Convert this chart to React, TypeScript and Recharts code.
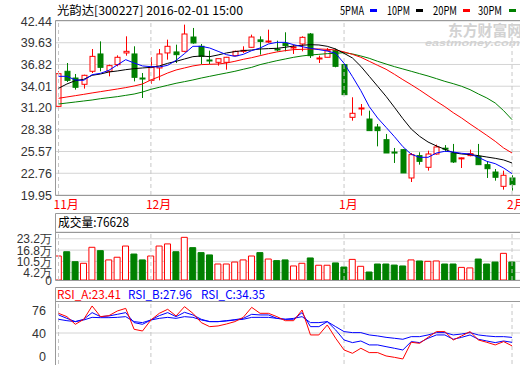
import { ComposedChart, Bar, Line, XAxis, YAxis, CartesianGrid, ReferenceLine, Cell } from 'recharts';

// 光韵达[300227] 日K 2015-11 ~ 2016-02-01
const monthIdx = [0, 11, 34, 54];
const monthLabels = ['11月', '12月', '1月', '2月'];
const priceTicks = [19.95, 22.76, 25.57, 28.38, 31.2, 34.01, 36.82, 39.63, 42.44];
const volTicks = [0, 4.2, 10.5, 16.8, 23.2];
const rsiTicks = [0, 40, 76];

const open = [31.41, 35.94, 35.07, 34.26, 35.94, 38.18, 35.94, 36.8, 38.31, 38.18, 35.07, 34.77, 36.37, 38.31, 38.44, 38.52, 40.37, 39.17, 37.4, 37.1, 37.1, 37.96, 38.6, 39.04, 40.0, 39.8, 38.82, 39.56, 39.0, 39.47, 40.76, 37.6, 37.75, 38.61, 36.8, 29.99, 31.1, 29.77, 28.74, 27.1, 25.5, 25.81, 22.15, 25.04, 23.53, 25.25, 26.0, 25.38, 24.7, 25.04, 24.95, 23.87, 22.92, 21.07, 22.15];
const close = [35.63, 34.77, 33.87, 35.42, 37.87, 36.45, 36.67, 37.75, 38.52, 35.16, 34.98, 36.45, 38.18, 39.17, 38.09, 40.76, 39.6, 37.87, 37.3, 37.57, 37.75, 38.52, 38.65, 40.37, 39.8, 39.85, 38.74, 39.25, 39.08, 40.33, 37.96, 37.66, 38.61, 36.58, 32.92, 30.51, 31.2, 28.27, 28.27, 25.38, 25.4, 22.8, 25.17, 24.3, 25.25, 26.16, 25.95, 24.22, 24.75, 25.3, 23.87, 23.35, 22.24, 22.5, 21.29];
const high = [35.94, 37.01, 35.59, 35.5, 38.82, 39.81, 36.8, 38.0, 40.46, 39.17, 35.72, 37.75, 38.82, 40.03, 39.38, 41.97, 41.54, 39.47, 38.61, 37.57, 37.8, 38.61, 39.17, 40.68, 40.46, 41.32, 39.9, 40.98, 39.38, 40.46, 40.89, 37.96, 38.95, 38.87, 36.9, 32.58, 31.71, 30.85, 29.13, 27.84, 26.03, 25.9, 25.38, 25.47, 25.68, 26.46, 26.4, 26.55, 24.8, 25.81, 26.55, 24.3, 23.31, 23.1, 22.5];
const low = [31.41, 34.56, 33.57, 33.7, 35.72, 35.94, 35.29, 36.58, 37.96, 34.64, 32.49, 34.34, 34.77, 37.44, 37.01, 38.4, 39.5, 36.88, 36.88, 36.67, 36.15, 37.96, 38.31, 39.0, 38.09, 39.6, 38.52, 38.52, 38.18, 38.52, 37.66, 37.01, 37.75, 36.45, 32.92, 29.56, 30.21, 28.27, 26.24, 25.38, 24.09, 22.8, 21.63, 23.87, 23.1, 25.17, 25.55, 24.09, 23.44, 24.95, 23.87, 22.15, 21.8, 20.64, 20.52];

const ma5 = [35.29, 35.29, 34.82, 34.77, 35.5, 35.68, 36.07, 36.76, 37.44, 37.01, 36.63, 36.54, 36.5, 36.71, 37.36, 38.22, 39.17, 39.17, 38.95, 38.52, 38.09, 37.87, 38.13, 38.61, 38.95, 39.47, 39.68, 39.68, 39.38, 39.12, 38.91, 38.74, 38.56, 38.26, 36.97, 35.25, 33.44, 31.37, 29.9, 28.7, 27.49, 26.2, 25.21, 24.82, 24.82, 25.38, 25.6, 25.51, 25.34, 25.25, 24.82, 24.3, 24.0, 23.44, 22.71];
const ma10 = [33.74, 34.3, 34.73, 34.9, 35.42, 35.59, 35.85, 35.98, 36.15, 36.28, 36.37, 36.45, 36.63, 36.97, 37.23, 37.53, 37.83, 37.92, 37.83, 38.05, 38.31, 38.48, 38.61, 38.69, 38.82, 38.87, 38.91, 39.04, 39.21, 39.3, 39.38, 39.34, 39.17, 38.82, 38.26, 37.66, 36.58, 35.29, 34.0, 32.7, 31.28, 29.82, 28.48, 27.53, 26.8, 26.29, 25.86, 25.42, 25.25, 25.17, 25.04, 24.86, 24.69, 24.48, 24.09];
const ma20 = [32.45, 32.62, 32.79, 32.96, 33.14, 33.31, 33.48, 33.65, 33.83, 34.04, 34.3, 34.82, 35.25, 35.72, 36.11, 36.37, 36.63, 36.8, 36.84, 36.88, 37.01, 37.23, 37.49, 37.7, 37.96, 38.22, 38.44, 38.61, 38.74, 38.78, 38.82, 38.82, 38.78, 38.69, 38.44, 38.13, 37.75, 37.23, 36.71, 36.2, 35.55, 34.86, 34.21, 33.52, 32.79, 32.06, 31.37, 30.59, 29.9, 29.13, 28.4, 27.66, 26.89, 26.03, 25.38];
const ma30 = [31.71, 31.84, 31.97, 32.1, 32.23, 32.4, 32.53, 32.66, 32.83, 33.0, 33.26, 33.61, 33.87, 34.13, 34.39, 34.6, 34.82, 35.07, 35.29, 35.51, 35.72, 35.94, 36.2, 36.45, 36.8, 37.06, 37.31, 37.53, 37.75, 37.92, 38.05, 38.13, 38.22, 38.26, 38.35, 38.18, 37.92, 37.62, 37.23, 36.88, 36.54, 36.24, 35.94, 35.63, 35.33, 34.99, 34.64, 34.34, 34.0, 33.57, 33.01, 32.49, 31.84, 30.85, 29.69];

// 成交量 (万)
const vol = [13.5, 15.9, 10.3, 9.4, 18.4, 16.5, 11.3, 12.8, 19.1, 14.6, 11.3, 13.5, 19.1, 20.3, 15.9, 24.0, 18.2, 15.4, 14.1, 9.0, 9.0, 10.1, 11.3, 13.5, 15.4, 11.8, 10.9, 11.3, 7.9, 9.4, 12.4, 8.3, 8.3, 9.6, 7.3, 11.6, 7.7, 4.5, 9.0, 9.0, 8.4, 7.9, 11.3, 10.7, 10.5, 10.7, 9.0, 9.0, 7.1, 6.8, 11.8, 9.0, 10.1, 15.0, 10.1];

const rsiA = [65.4, 61.1, 51.2, 57.6, 74.9, 61.1, 62.4, 68.4, 71.8, 44.8, 42.6, 56.8, 65.4, 70.6, 62.0, 74.0, 65.4, 53.4, 48.2, 49.1, 51.6, 54.7, 60.2, 73.1, 65.4, 65.4, 61.1, 55.9, 55.9, 69.7, 37.5, 37.5, 50.4, 33.2, 18.1, 13.8, 20.3, 14.7, 14.7, 10.4, 8.6, 6.5, 28.0, 26.7, 34.4, 41.8, 41.8, 31.0, 36.2, 41.8, 31.0, 28.0, 24.6, 28.9, 23.41];
const rsiB = [63.3, 58.9, 54.7, 57.7, 66.3, 61.1, 62.0, 64.1, 66.3, 53.4, 51.2, 56.8, 62.4, 66.3, 61.1, 66.7, 63.3, 57.7, 54.7, 54.7, 55.9, 57.2, 58.9, 64.1, 63.3, 63.3, 58.9, 57.7, 57.7, 66.3, 48.2, 48.2, 54.7, 43.9, 31.0, 27.6, 29.7, 24.6, 24.6, 22.4, 20.3, 18.1, 28.9, 27.6, 33.2, 37.5, 37.5, 31.9, 34.4, 37.5, 31.9, 29.7, 27.6, 29.7, 27.96];
const rsiC = [57.7, 55.9, 54.7, 56.8, 60.2, 59.8, 59.8, 60.2, 61.1, 54.7, 53.4, 56.8, 58.9, 60.2, 58.9, 61.1, 60.2, 56.8, 54.7, 54.7, 55.5, 56.8, 57.7, 60.2, 60.2, 60.2, 58.9, 57.7, 58.9, 61.1, 53.4, 53.4, 54.7, 48.2, 41.8, 40.5, 40.5, 37.5, 36.2, 34.4, 33.2, 31.9, 35.3, 35.3, 37.5, 40.5, 40.5, 37.5, 38.7, 40.5, 37.5, 36.2, 35.3, 35.3, 34.35];

const RED = '#ff0000';
const GREEN = '#008000';
const GRID = '#d4d4d4';
const FRAME = '#999999';
const xDomain: [number, number] = [-0.3, 54.95];

const rows = open.map((o, i) => ({
  i,
  open: o,
  close: close[i],
  high: high[i],
  low: low[i],
  range: [low[i], high[i]],
  up: close[i] >= o,
  ma5: ma5[i],
  ma10: ma10[i],
  ma20: ma20[i],
  ma30: ma30[i],
  vol: vol[i],
  rsiA: rsiA[i],
  rsiB: rsiB[i],
  rsiC: rsiC[i],
}));

function Candle(props: any) {
  const { x, y, width, height } = props;
  const d = props.payload ?? props;
  const top = Math.min(y, y + height);
  const h = Math.abs(height);
  const k = h / (d.high - d.low || 1);
  const yOf = (v: number) => top + (d.high - v) * k;
  const cx = Math.round(x + width / 2) + 0.5;
  const color = d.up ? RED : GREEN;
  const bTop = yOf(Math.max(d.open, d.close));
  const bBot = yOf(Math.min(d.open, d.close));
  return (
    <g>
      <line x1={cx} x2={cx} y1={top} y2={top + h} stroke={color} strokeWidth={1} />
      <rect x={cx - 2.5} y={bTop} width={5} height={Math.max(bBot - bTop, 1)} fill={d.up ? '#fff' : color} stroke={color} strokeWidth={1} />
    </g>
  );
}

const tickFont = '"Liberation Sans", Arial, sans-serif';
const cjkFont = '"Noto Sans CJK SC", sans-serif';

function PriceTick({ y, payload }: any) {
  return (
    <text x={52} y={y} dy={4.5} textAnchor="end" fontSize={12.5} fontFamily={tickFont} fill="#333">
      {payload.value.toFixed(2)}
    </text>
  );
}

function VolTick({ y, payload }: any) {
  const v = payload.value;
  return (
    <text x={52} y={y} dy={4.5} textAnchor="end" fontSize={12} fontFamily={tickFont} fill="#333">
      {v === 0 ? '0' : v.toFixed(1) + '万'}
    </text>
  );
}

function RsiTick({ y, payload }: any) {
  const v = payload.value;
  const shift = v === 76 ? 5 : v === 0 ? -8 : 0;
  return (
    <text x={46} y={y + shift} dy={4.5} textAnchor="end" fontSize={12.5} fontFamily={tickFont} fill="#333">
      {v}
    </text>
  );
}

function MonthTick({ x, payload }: any) {
  const label = monthLabels[monthIdx.indexOf(payload.value)];
  return (
    <text x={x - 5} y={209} fontSize={12} fontFamily={cjkFont} fill={RED}>
      {label}
    </text>
  );
}

function monthLines() {
  return monthIdx.map((m) => (
    <ReferenceLine key={m} x={m} stroke="#c8c8c8" strokeDasharray="4 3" ifOverflow="extendDomain" />
  ));
}

export default function App() {
  return (
    <div style={{ position: 'absolute', left: 0, top: 0, width: 520, height: 365, background: '#fff', overflow: 'hidden' }}>
      {/* K线 */}
      <div style={{ position: 'absolute', left: 0, top: 0 }}>
        <ComposedChart width={520} height={215} data={rows} margin={{ top: 21, right: 0, bottom: 0, left: 0 }}>
          <CartesianGrid vertical={false} stroke={GRID} />
          <XAxis dataKey="i" type="number" domain={xDomain} ticks={monthIdx} interval={0} height={20}
            axisLine={false} tickLine={false} tick={<MonthTick />} allowDataOverflow />
          <YAxis type="number" domain={[19.95, 42.44]} ticks={priceTicks} interval={0} width={56}
            axisLine={false} tickLine={false} tick={<PriceTick />} allowDataOverflow />
          {monthLines()}
          <Bar dataKey="range" barSize={6} shape={<Candle />} isAnimationActive={false} />
          <Line dataKey="ma30" type="linear" stroke={GREEN} strokeWidth={1} dot={false} activeDot={false} isAnimationActive={false} />
          <Line dataKey="ma20" type="linear" stroke={RED} strokeWidth={1} dot={false} activeDot={false} isAnimationActive={false} />
          <Line dataKey="ma10" type="linear" stroke="#000" strokeWidth={1} dot={false} activeDot={false} isAnimationActive={false} />
          <Line dataKey="ma5" type="linear" stroke="#0000ff" strokeWidth={1} dot={false} activeDot={false} isAnimationActive={false} />
        </ComposedChart>
      </div>

      {/* 成交量 */}
      <div style={{ position: 'absolute', left: 0, top: 213 }}>
        <ComposedChart width={520} height={80} data={rows} margin={{ top: 19, right: 0, bottom: 13, left: 0 }}>
          <CartesianGrid vertical={false} stroke={GRID} />
          <XAxis dataKey="i" type="number" domain={xDomain} hide allowDataOverflow />
          <YAxis type="number" domain={[0, 27]} ticks={volTicks} interval={0} width={56}
            axisLine={false} tickLine={false} tick={<VolTick />} allowDataOverflow />
          {monthLines()}
          <Bar dataKey="vol" barSize={6} isAnimationActive={false}>
            {rows.map((r) => (
              <Cell key={r.i} fill={r.up ? '#fff' : GREEN} stroke={r.up ? RED : GREEN} strokeWidth={1} />
            ))}
          </Bar>
        </ComposedChart>
      </div>

      {/* RSI */}
      <div style={{ position: 'absolute', left: 0, top: 287 }}>
        <ComposedChart width={520} height={78} data={rows} margin={{ top: 14, right: 0, bottom: 1, left: 0 }}>
          <XAxis dataKey="i" type="number" domain={xDomain} hide allowDataOverflow />
          <YAxis type="number" domain={[0, 81.3]} ticks={rsiTicks} interval={0} width={56}
            axisLine={false} tickLine={false} tick={<RsiTick />} allowDataOverflow />
          <ReferenceLine y={40} stroke={GRID} />
          {monthLines()}
          <Line dataKey="rsiC" type="linear" stroke="#0000ff" strokeWidth={1} dot={false} activeDot={false} isAnimationActive={false} />
          <Line dataKey="rsiB" type="linear" stroke="#0000ff" strokeWidth={1} dot={false} activeDot={false} isAnimationActive={false} />
          <Line dataKey="rsiA" type="linear" stroke={RED} strokeWidth={1} dot={false} activeDot={false} isAnimationActive={false} />
        </ComposedChart>
      </div>

      {/* 边框与文字 */}
      <svg width={520} height={365} style={{ position: 'absolute', left: 0, top: 0, pointerEvents: 'none' }}>
        <g stroke={FRAME} strokeWidth={1} fill="none">
          <path d="M55.5,20.5H520M55.5,20.5V195.5M55.5,195.5H520" />
          <path d="M55.5,213.5H520M55.5,232.5H520M55.5,280.5H520M55.5,213.5V280.5" />
          <path d="M55.5,287.5H520M55.5,301.5H520M55.5,287.5V365" />
        </g>
        <g fill="#d2d2d2" fontWeight="bold">
          <text x={448} y={36} fontSize={15} fontFamily={cjkFont} textLength={74} lengthAdjust="spacingAndGlyphs">东方财富网</text>
          <text x={425} y={46} fontSize={9.5} fontFamily={tickFont} fontStyle="italic" textLength={95} lengthAdjust="spacingAndGlyphs">eastmoney.com</text>
        </g>
        <text x={57} y={14.5} fontSize={12} fontFamily={cjkFont} fill="#000" textLength={186} lengthAdjust="spacingAndGlyphs">光韵达[300227] 2016-02-01 15:00</text>
        <g fontSize={12} fontFamily={cjkFont} fill="#000">
          <text x={340} y={14.5} textLength={24} lengthAdjust="spacingAndGlyphs">5PMA</text>
          <text x={387} y={14.5} textLength={23} lengthAdjust="spacingAndGlyphs">10PM</text>
          <text x={433} y={14.5} textLength={24} lengthAdjust="spacingAndGlyphs">20PM</text>
          <text x={478} y={14.5} textLength={24} lengthAdjust="spacingAndGlyphs">30PM</text>
        </g>
        <rect x={370} y={9} width={7} height={3} fill="#0000ff" />
        <rect x={416} y={9} width={7} height={3} fill="#000" />
        <rect x={463} y={9} width={7} height={3} fill={RED} />
        <rect x={509} y={9} width={7} height={3} fill={GREEN} />
        <text x={58} y={227} fontSize={12.5} fontFamily={cjkFont} fill="#000" textLength={71} lengthAdjust="spacingAndGlyphs">成交量:76628</text>
        <g fontSize={12} fontFamily={cjkFont}>
          <text x={57} y={298.5} fill={RED} textLength={64} lengthAdjust="spacingAndGlyphs">RSI_A:23.41</text>
          <text x={128} y={298.5} fill="#0000ff" textLength={64} lengthAdjust="spacingAndGlyphs">RSI_B:27.96</text>
          <text x={201} y={298.5} fill="#0000ff" textLength={64} lengthAdjust="spacingAndGlyphs">RSI_C:34.35</text>
        </g>
      </svg>
    </div>
  );
}
